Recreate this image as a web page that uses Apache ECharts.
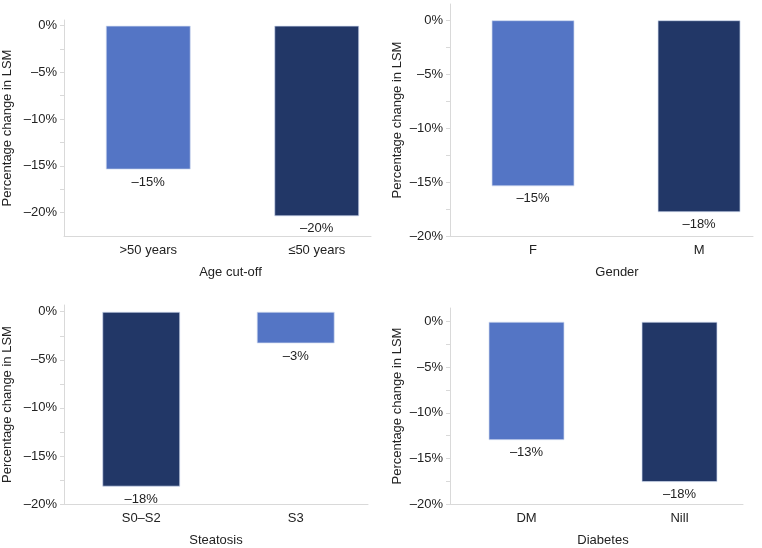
<!DOCTYPE html>
<html>
<head>
<meta charset="utf-8">
<script src="https://cdn.jsdelivr.net/npm/echarts@6/dist/echarts.min.js"></script>
<style>html,body{margin:0;padding:0;background:#fff;}#c{width:762px;height:548px;}</style>
</head>
<body>
<div id="c"></div>
<script>
// ---- data ----
var ageCategories = ['>50 years', '\u226450 years'];
var ageValues = [-15.4, -20.4];
var genderCategories = ['F', 'M'];
var genderValues = [-15.4, -17.8];
var steatosisCategories = ['S0\u2013S2', 'S3'];
var steatosisValues = [-18.2, -3.3];
var diabetesCategories = ['DM', 'Nill'];
var diabetesValues = [-13.0, -17.6];
var axisTitles = ['Age cut-off', 'Gender', 'Steatosis', 'Diabetes'];
var yAxisTitle = 'Percentage change in LSM';
var yLabelValues = [0, -5, -10, -15, -20];
var yTickValues = [0, -2.5, -5, -7.5, -10, -12.5, -15, -17.5, -20];

var LIGHT = '#5475c5';
var DARK = '#223767';
var TXT = '#222222';
var AX = '#d9d9d9';
var FONT = 'Liberation Sans, Arial, sans-serif';

var panels = [
  {cats: ageCategories, vals: ageValues, colors: [LIGHT, DARK], title: axisTitles[0],
   grid: {left: 63, top: 20, width: 308, height: 216}, yMin: -22.5, yMax: 0.6, xMax: 1.822, barW: 85, namePad: 26, yGap: 50},
  {cats: genderCategories, vals: genderValues, colors: [LIGHT, DARK], title: axisTitles[1],
   grid: {left: 450, top: 4, width: 303, height: 232}, yMin: -20, yMax: 1.5, xMax: 1.825, barW: 83, namePad: 31, yGap: 46},
  {cats: steatosisCategories, vals: steatosisValues, colors: [DARK, LIGHT], title: axisTitles[2],
   grid: {left: 63, top: 305, width: 305, height: 204}, yMin: -20, yMax: 0.7, xMax: 1.968, barW: 78, namePad: 0, yGap: 50},
  {cats: diabetesCategories, vals: diabetesValues, colors: [LIGHT, DARK], title: axisTitles[3],
   grid: {left: 450, top: 308, width: 293, height: 201}, yMin: -20, yMax: 1.5, xMax: 1.915, barW: 76, namePad: 13, yGap: 46}
];

function fmtPct(v) {
  var r = Math.round(v);
  return r === 0 ? '0%' : (r < 0 ? '\u2013' : '') + Math.abs(r) + '%';
}

var grids = [], xAxes = [], yAxes = [], series = [];
panels.forEach(function (p, i) {
  grids.push(p.grid);
  xAxes.push({
    type: 'value', gridIndex: i, min: 0, max: p.xMax,
    name: p.title, nameLocation: 'middle', nameGap: 30,
    nameTextStyle: {color: TXT, fontSize: 13, fontFamily: FONT, padding: [0, 0, 0, p.namePad]},
    axisLine: {show: true, onZero: false, lineStyle: {color: AX, width: 1}},
    axisTick: {show: false},
    splitLine: {show: false},
    axisLabel: {
      customValues: p.cats.map(function (c, k) { return k + 0.5; }),
      formatter: (function (cats) { return function (v) { return cats[Math.round(v - 0.5)]; }; })(p.cats),
      color: TXT, fontSize: 13, fontFamily: FONT, margin: 8
    }
  });
  yAxes.push({
    type: 'value', gridIndex: i, min: p.yMin, max: p.yMax,
    name: yAxisTitle, nameLocation: 'middle', nameGap: p.yGap,
    nameTextStyle: {color: TXT, fontSize: 13, fontFamily: FONT},
    axisLine: {show: true, onZero: false, lineStyle: {color: AX, width: 1}},
    axisTick: {show: true, length: 4, customValues: yTickValues, lineStyle: {color: AX}},
    splitLine: {show: false},
    axisLabel: {customValues: yLabelValues, formatter: fmtPct, color: TXT, fontSize: 13, fontFamily: FONT, margin: 7}
  });
  series.push({
    type: 'bar', xAxisIndex: i, yAxisIndex: i, barWidth: p.barW,
    data: p.vals.map(function (v, k) {
      return {value: [k + 0.5, v], itemStyle: {color: p.colors[k], borderColor: 'rgba(210,220,240,0.7)', borderWidth: 1}};
    }),
    label: {show: true, position: 'bottom', distance: 6, color: TXT, fontSize: 13, fontFamily: FONT,
      formatter: function (d) { return fmtPct(d.value[1]); }},
    silent: true, animation: false
  });
});

var chart = echarts.init(document.getElementById('c'), null, {renderer: 'canvas'});
chart.setOption({animation: false, grid: grids, xAxis: xAxes, yAxis: yAxes, series: series});
</script>
</body>
</html>
